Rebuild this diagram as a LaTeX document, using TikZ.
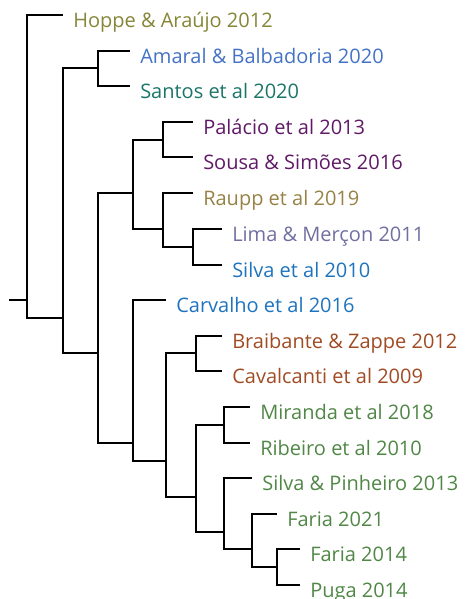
\documentclass[tikz,border=0pt]{standalone}
\usepackage{fontspec}
\setmainfont{Open Sans}
\usepackage{tikz}

\definecolor{olivec}{RGB}{134,134,56}
\definecolor{bluea}{RGB}{68,114,196}
\definecolor{tealc}{RGB}{27,117,104}
\definecolor{purplec}{RGB}{96,25,102}
\definecolor{goldc}{RGB}{150,130,70}
\definecolor{lilac}{RGB}{112,112,160}
\definecolor{blueb}{RGB}{30,115,190}
\definecolor{brownc}{RGB}{160,75,35}
\definecolor{greenc}{RGB}{80,135,70}

\begin{document}
\begin{tikzpicture}[x=0.75pt, y=-0.75pt,
  leaf/.style={anchor=west, inner ysep=0pt, inner xsep=7.5pt, text height=19pt,
    text depth=0pt, font=\fontsize{15}{18}\selectfont, text=#1},
  branch/.style={draw=black, line width=1.1pt}
]
\useasboundingbox (0,0) rectangle (465,599);

% leaves
\node[leaf=olivec]  (hoppe)  at (63,15)  {Hoppe \& Araújo 2012};
\node[leaf=bluea]   (amaral) at (130,51) {Amaral \& Balbadoria 2020};
\node[leaf=tealc]   (santos) at (130,86) {Santos et al 2020};
\node[leaf=purplec] (palacio) at (193,122) {Palácio et al 2013};
\node[leaf=purplec] (sousa)  at (193,157) {Sousa \& Simões 2016};
\node[leaf=goldc]   (raupp)  at (193,193) {Raupp et al 2019};
\node[leaf=lilac]   (lima)   at (222,229) {Lima \& Merçon 2011};
\node[leaf=blueb]   (silva)  at (222,265) {Silva et al 2010};
\node[leaf=blueb]   (carvalho) at (166,300) {Carvalho et al 2016};
\node[leaf=brownc]  (braib)  at (222,336) {Braibante \& Zappe 2012};
\node[leaf=brownc]  (caval)  at (222,371) {Cavalcanti et al 2009};
\node[leaf=greenc]  (miranda) at (250,407) {Miranda et al 2018};
\node[leaf=greenc]  (ribeiro) at (250,443) {Ribeiro et al 2010};
\node[leaf=greenc]  (silvap) at (252,478) {Silva \& Pinheiro 2013};
\node[leaf=greenc]  (faria21) at (277,514) {Faria 2021};
\node[leaf=greenc]  (faria14) at (300,549) {Faria 2014};
\node[leaf=greenc]  (puga)   at (300,585) {Puga 2014};

% inner nodes (x of the bar, y where the parent joins)
\coordinate (root) at (27,300);
\coordinate (stub) at (9,300);
\coordinate (ca) at (63,318);
\coordinate (cas) at (98,68);
\coordinate (cb) at (98,353);
\coordinate (cc) at (133,193);
\coordinate (cps) at (163,140);
\coordinate (cr) at (163,229);
\coordinate (cls) at (193,247);
\coordinate (cd) at (133,443);
\coordinate (ce) at (166,461);
\coordinate (cbc) at (196,353);
\coordinate (cf) at (196,497);
\coordinate (cmr) at (224,425);
\coordinate (cg) at (224,532);
\coordinate (ch) at (252,549);
\coordinate (cfp) at (277,567);

\draw[branch] (stub) -- (root);
\draw[branch] (hoppe) -| (root) |- (ca);
\draw[branch] (cas) -| (ca) |- (cb);
\draw[branch] (amaral) -| (cas) |- (santos);
\draw[branch] (cc) -| (cb) |- (cd);
\draw[branch] (cps) -| (cc) |- (cr);
\draw[branch] (palacio) -| (cps) |- (sousa);
\draw[branch] (raupp) -| (cr) |- (cls);
\draw[branch] (lima) -| (cls) |- (silva);
\draw[branch] (carvalho) -| (cd) |- (ce);
\draw[branch] (cbc) -| (ce) |- (cf);
\draw[branch] (braib) -| (cbc) |- (caval);
\draw[branch] (cmr) -| (cf) |- (cg);
\draw[branch] (miranda) -| (cmr) |- (ribeiro);
\draw[branch] (silvap) -| (cg) |- (ch);
\draw[branch] (faria21) -| (ch) |- (cfp);
\draw[branch] (faria14) -| (cfp) |- (puga);

\end{tikzpicture}
\end{document}
